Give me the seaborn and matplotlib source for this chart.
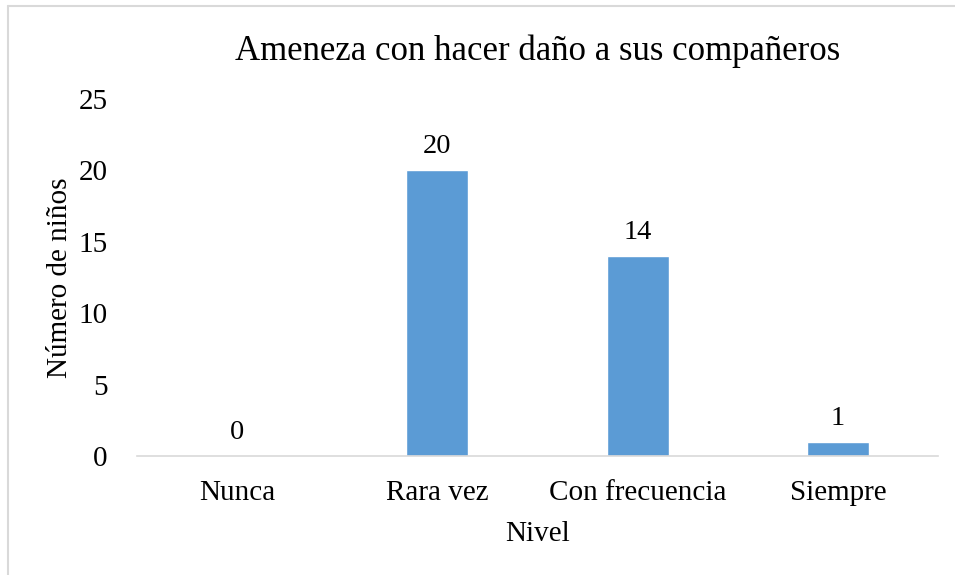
import matplotlib
matplotlib.use("Agg")
import matplotlib.pyplot as plt
import seaborn as sns
import pandas as pd
from matplotlib.lines import Line2D

categories = ["Nunca", "Rara vez", "Con frecuencia", "Siempre"]
values = [0, 20, 14, 1]
yticks = [0, 5, 10, 15, 20, 25]

sns.set_theme(style="white")
plt.rcParams["font.family"] = ["Liberation Serif", "DejaVu Serif"]

df = pd.DataFrame({"Nivel": categories, "Número de niños": values})

W, H = 955, 575
fig = plt.figure(figsize=(W / 100, H / 100), dpi=100)
ax = fig.add_axes([137 / W, 119 / H, (938 - 137) / W, (456 - 99) / H])

sns.barplot(data=df, x="Nivel", y="Número de niños", color="#5B9BD5",
            saturation=1, width=0.31, ax=ax)

for i, v in enumerate(values):
    ax.annotate(str(v), (i, v), xytext=(0, 8), textcoords="offset points",
                ha="center", va="bottom", fontsize=20.5, color="black")

ax.set_ylim(0, 25)
ax.set_xlim(-0.5, 3.5)
ax.set_yticks(yticks)
ax.set_yticklabels([str(t) for t in yticks])
ax.tick_params(axis="both", length=0, labelsize=21, colors="black")
ax.tick_params(axis="y", pad=21)
ax.tick_params(axis="x", pad=17)
for s in ["top", "right", "left"]:
    ax.spines[s].set_visible(False)
ax.spines["bottom"].set_color("#D9D9D9")
ax.spines["bottom"].set_linewidth(1.2)

ax.set_xlabel("Nivel", fontsize=21, color="black", labelpad=11)
ax.set_ylabel("Número de niños", fontsize=21, color="black", labelpad=4)
ax.set_title("Ameneza con hacer daño a sus compañeros", fontsize=25,
             color="black", pad=28)

# outer chart-area border (top and left edges)
edge = dict(transform=fig.transFigure, color="#D9D9D9", linewidth=1.5)
fig.lines.append(Line2D([7.5 / W, 1.0], [1 - 5.5 / H, 1 - 5.5 / H], **edge))
fig.lines.append(Line2D([7.5 / W, 7.5 / W], [0.0, 1 - 5.5 / H], **edge))

fig.savefig("out.png", dpi=100)
